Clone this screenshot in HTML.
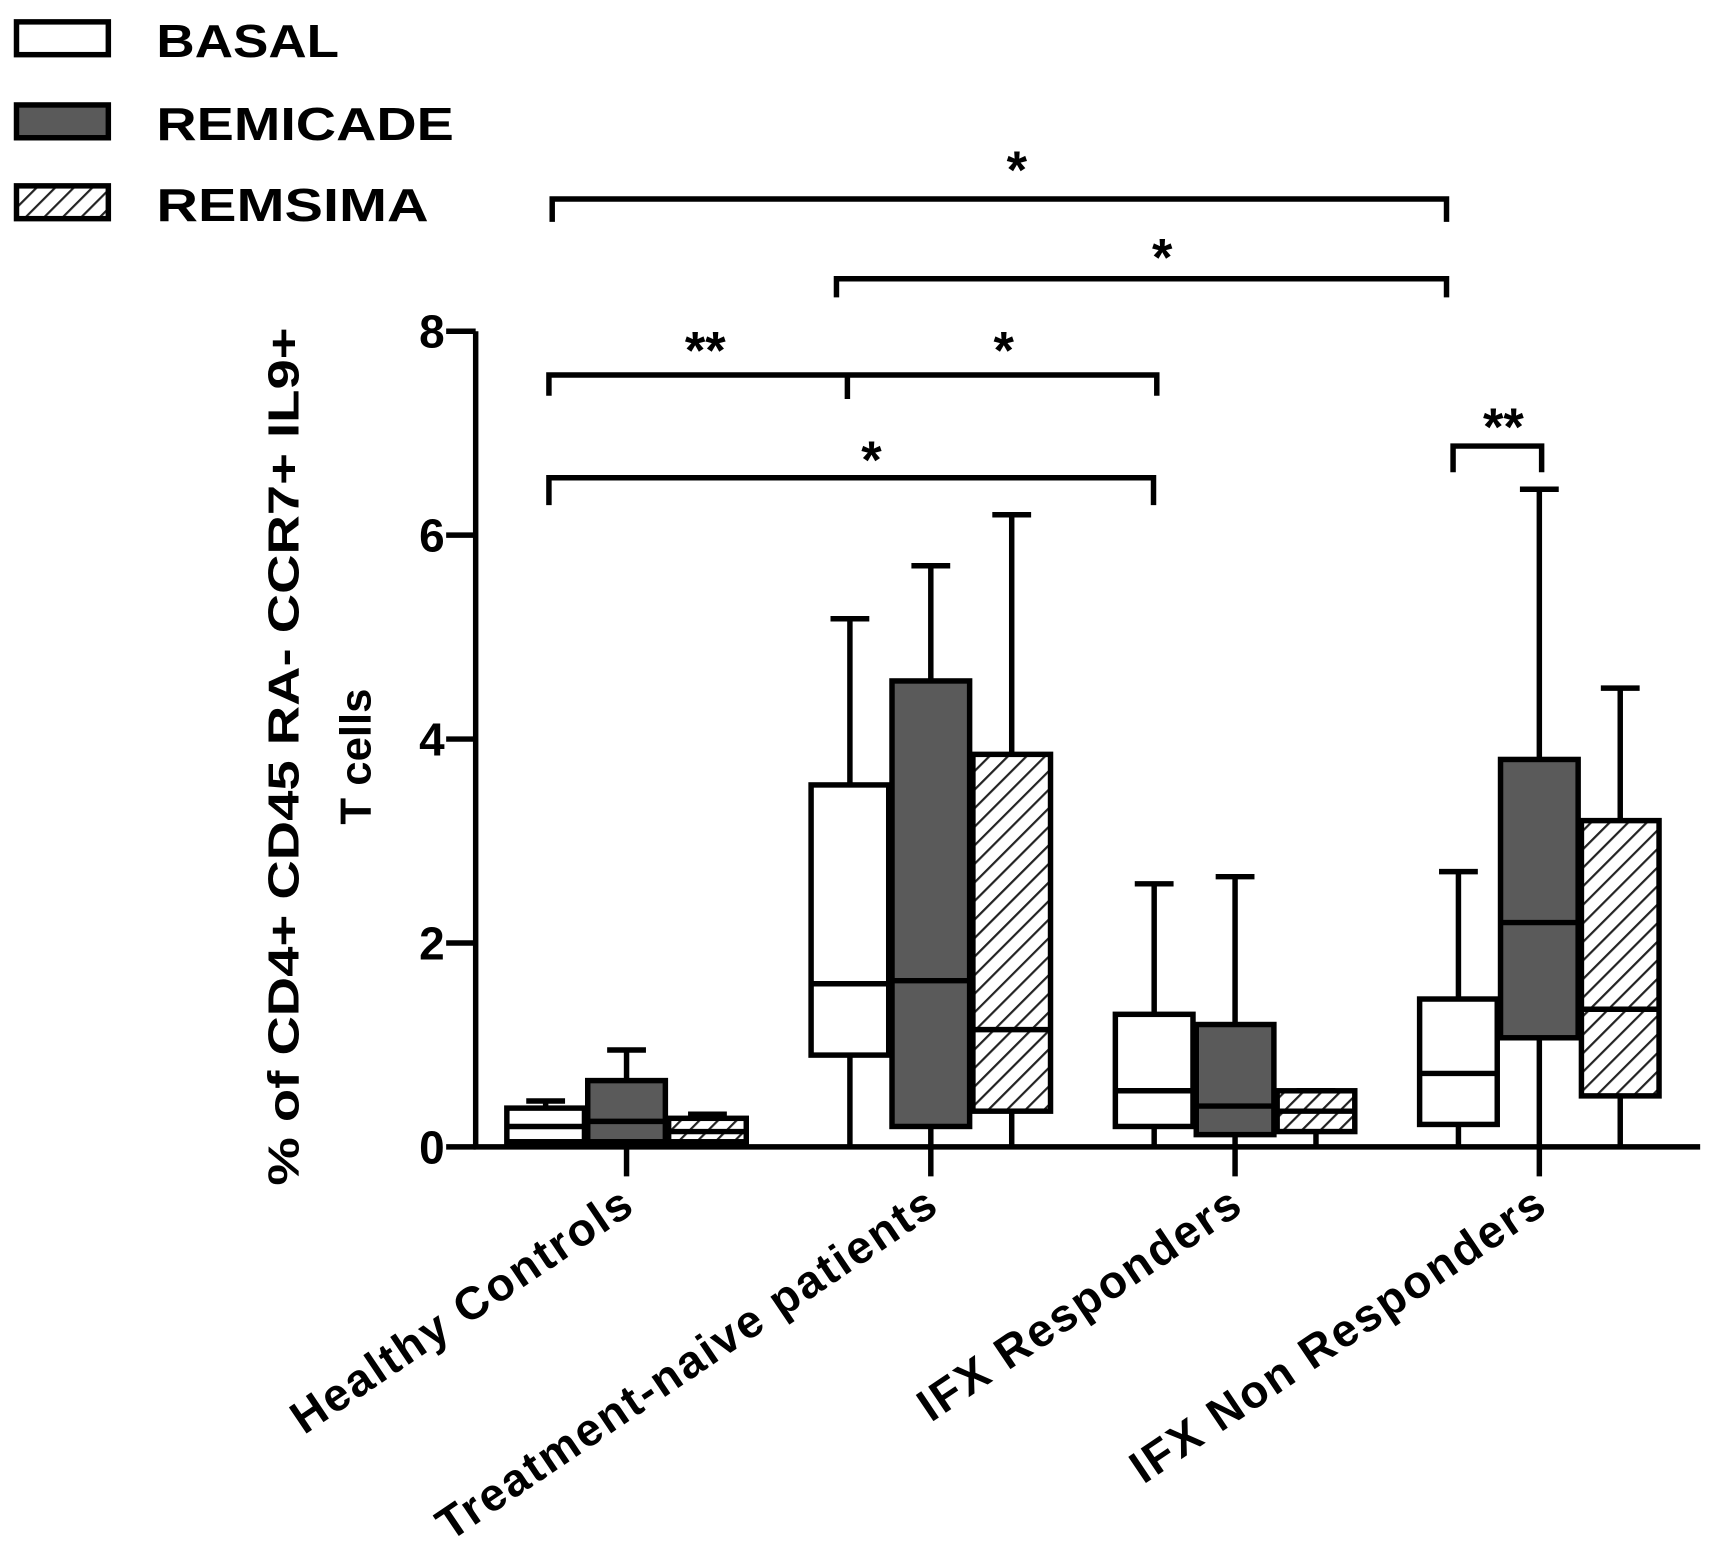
<!DOCTYPE html>
<html><head><meta charset="utf-8"><style>
html,body{margin:0;padding:0;background:#fff;}
svg{display:block;font-family:"Liberation Sans",Arial,sans-serif;font-weight:bold;}
</style></head><body>
<svg id="chart" width="1709" height="1547" viewBox="0 0 1563 1415" xmlns="http://www.w3.org/2000/svg">
<defs>
<pattern id="hatch" patternUnits="userSpaceOnUse" width="12" height="12" patternTransform="rotate(45)">
<rect width="12" height="12" fill="#fff"/><line x1="0" y1="0" x2="0" y2="12" stroke="#222" stroke-width="4"/>
</pattern>
</defs>
<g>
<rect x="15" y="20" width="84" height="30" fill="#fff" stroke="#000" stroke-width="5"/>
<text x="143" y="52" font-size="42" textLength="167" lengthAdjust="spacingAndGlyphs">BASAL</text>
<rect x="15" y="96" width="84" height="30" fill="#5a5a5a" stroke="#000" stroke-width="5"/>
<text x="143" y="128" font-size="42" textLength="272" lengthAdjust="spacingAndGlyphs">REMICADE</text>
<rect x="15" y="170" width="84" height="30" fill="url(#hatch)" stroke="#000" stroke-width="5"/>
<text x="143" y="202" font-size="42" textLength="249" lengthAdjust="spacingAndGlyphs">REMSIMA</text>
</g>
<text transform="translate(273,692) rotate(-90)" text-anchor="middle" font-size="40"><tspan x="0" y="0" textLength="785" lengthAdjust="spacingAndGlyphs">% of CD4+ CD45 RA- CCR7+ IL9+</tspan><tspan x="0" y="66">T cells</tspan></text>
<g id="axes"></g>
<g id="boxes"></g>
<g id="sig" stroke="#000" stroke-width="5" fill="none">
<path d="M505,203V182H1323V203"/><path d="M765,272V255H1323V272"/>
<path d="M502,362V343H1058V362M775,343V365"/><path d="M502,462V437H1055V462"/>
<path d="M1329,432V408H1410V432"/>
</g>
<g font-size="48" text-anchor="middle">
<text x="930" y="172">*</text><text x="1063" y="252">*</text><text x="645" y="337">**</text>
<text x="918" y="337">*</text><text x="797" y="437">*</text><text x="1375" y="407">**</text>
</g>
</svg>
<script>
const categories=["Healthy Controls","Treatment-naive patients","IFX Responders","IFX Non Responders"];
const seriesNames=["BASAL","REMICADE","REMSIMA"];
const mins=[[0,0,0],[0,0,0],[0,0,0],[0,0,0]];
const q1s=[[0.05,0.05,0.05],[0.9,0.2,0.35],[0.2,0.12,0.15],[0.22,1.07,0.5]];
const medians=[[0.2,0.25,0.15],[1.6,1.63,1.15],[0.55,0.4,0.35],[0.72,2.2,1.35]];
const q3s=[[0.38,0.65,0.28],[3.55,4.57,3.85],[1.3,1.2,0.55],[1.45,3.8,3.2]];
const maxs=[[0.45,0.95,0.32],[5.18,5.7,6.2],[2.58,2.65,0.55],[2.7,6.45,4.5]];
const yTicks=[0,2,4,6,8];
const NS="http://www.w3.org/2000/svg";
const y=v=>1049-v*93.25;
const xc=i=>573+i*278.3;
const fills=["#fff","#5a5a5a","url(#hatch)"];
function mk(tag,attrs,parent){const e=document.createElementNS(NS,tag);for(const k in attrs)e.setAttribute(k,attrs[k]);parent.appendChild(e);return e;}
const ax=document.getElementById('axes');
let e=mk('line',{x1:435,y1:y(8),x2:435,y2:y(0)+2,stroke:'#000','stroke-width':5},ax);


e=mk('line',{x1:433,y1:y(0),x2:1555,y2:y(0),stroke:'#000','stroke-width':5},ax);


yTicks.forEach(t=>{
 let l=mk('line',{x1:408,y1:y(t),x2:435,y2:y(t),stroke:'#000','stroke-width':5},ax);
 
 
 let tx=mk('text',{x:395,y:y(t)+15,'font-size':42,'text-anchor':'middle'},ax);
 tx.textContent=t;
 
 
});
categories.forEach((c,i)=>{
 let l=mk('line',{x1:xc(i),y1:y(0),x2:xc(i),y2:y(0)+27,stroke:'#000','stroke-width':5},ax);
 
 
 let tx=mk('text',{'font-size':42,'text-anchor':'end','letter-spacing':2,transform:`translate(${xc(i)+10},${y(0)+58}) rotate(-34)`},ax);
 tx.textContent=c;
 
 
});
const bx=document.getElementById('boxes');
const W=71;
categories.forEach((c,i)=>{
 seriesNames.forEach((s,j)=>{
  const cx=xc(i)+(j-1)*74;
  const g=mk('g',{stroke:'#000','stroke-width':5},bx);
  
  
  mk('line',{x1:cx,y1:y(maxs[i][j]),x2:cx,y2:y(q3s[i][j])},g);
  mk('line',{x1:cx-W/4,y1:y(maxs[i][j]),x2:cx+W/4,y2:y(maxs[i][j])},g);
  mk('line',{x1:cx,y1:y(q1s[i][j]),x2:cx,y2:y(mins[i][j])},g);
  mk('rect',{x:cx-W/2,y:y(q3s[i][j]),width:W,height:y(q1s[i][j])-y(q3s[i][j]),fill:fills[j]},g);
  mk('line',{x1:cx-W/2,y1:y(medians[i][j]),x2:cx+W/2,y2:y(medians[i][j])},g);
 });
});
</script>
</body></html>
